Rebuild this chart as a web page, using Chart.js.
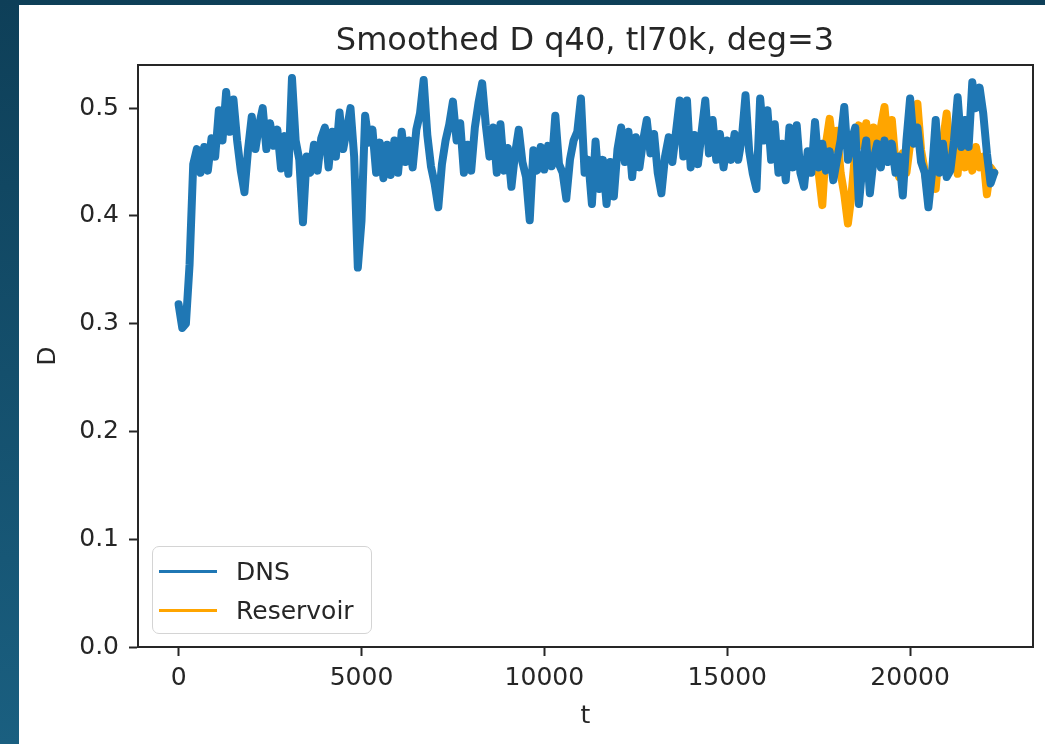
<!DOCTYPE html>
<html>
<head>
<meta charset="utf-8">
<script src="https://cdn.jsdelivr.net/npm/chart.js@4.4.1/dist/chart.umd.min.js"></script>
<style>
  html, body { margin: 0; padding: 0; }
  body {
    width: 1045px; height: 744px; overflow: hidden; position: relative;
    background: linear-gradient(to bottom, #0e3f58, #1a5f80);
    font-family: 'DejaVu Sans', sans-serif;
  }
  #sheet { position: absolute; left: 19px; top: 5px; width: 1026px; height: 739px; background: #fff; }
  #plot { position: absolute; left: 0; top: 0; }
  #title {
    position: absolute; left: 566px; top: 18px; transform: translateX(-50%);
    font-size: 32px; line-height: 32px; color: #262626; white-space: nowrap;
  }
  #legend {
    position: absolute; left: 133px; top: 541px; width: 218px; height: 86px;
    border: 1.5px solid #d4d4d4; border-radius: 7px; background: rgba(255,255,255,0.8);
  }
  .row { position: absolute; left: 0; height: 30px; font-size: 25px; line-height: 30px; color: #262626; }
  .row .swatch { position: absolute; left: 6px; top: 13px; width: 58px; height: 3px; }
  .row .label { position: absolute; left: 83px; top: 0; white-space: nowrap; }
</style>
</head>
<body>
<div id="sheet">
  <canvas id="plot" width="1026" height="739"></canvas>
  <div id="title">Smoothed D q40, tl70k, deg=3</div>
  <div id="legend"></div>
</div>
<script>
const STEP = 100;
const dnsStart = 0;
const dnsValues = [
  0.318, 0.296, 0.300, 0.355, 0.448, 0.462, 0.440, 0.464, 0.442, 0.472,
  0.455, 0.498, 0.470, 0.515, 0.478, 0.508, 0.470, 0.442, 0.422, 0.462,
  0.492, 0.462, 0.484, 0.500, 0.462, 0.486, 0.465, 0.480, 0.444, 0.474,
  0.439, 0.528, 0.470, 0.452, 0.394, 0.455, 0.440, 0.466, 0.442, 0.472,
  0.482, 0.445, 0.478, 0.455, 0.496, 0.462, 0.480, 0.500, 0.455, 0.352,
  0.395, 0.493, 0.468, 0.480, 0.440, 0.468, 0.435, 0.466, 0.438, 0.470,
  0.440, 0.478, 0.450, 0.470, 0.445, 0.480, 0.495, 0.526, 0.475, 0.446,
  0.430, 0.408, 0.448, 0.470, 0.485, 0.506, 0.470, 0.486, 0.440, 0.466,
  0.442, 0.482, 0.505, 0.523, 0.484, 0.455, 0.482, 0.440, 0.485, 0.442,
  0.463, 0.427, 0.458, 0.480, 0.450, 0.436, 0.396, 0.461, 0.442, 0.464,
  0.443, 0.465, 0.446, 0.493, 0.448, 0.440, 0.416, 0.452, 0.470, 0.478,
  0.509, 0.440, 0.452, 0.411, 0.469, 0.425, 0.452, 0.411, 0.450, 0.418,
  0.462, 0.482, 0.450, 0.478, 0.436, 0.473, 0.445, 0.470, 0.489, 0.458,
  0.476, 0.440, 0.421, 0.455, 0.473, 0.450, 0.478, 0.507, 0.455, 0.507,
  0.445, 0.475, 0.448, 0.478, 0.507, 0.458, 0.489, 0.452, 0.476, 0.445,
  0.470, 0.452, 0.476, 0.452, 0.472, 0.512, 0.460, 0.439, 0.425, 0.509,
  0.470, 0.498, 0.452, 0.485, 0.440, 0.467, 0.433, 0.482, 0.445, 0.484,
  0.440, 0.427, 0.460, 0.440, 0.487, 0.445, 0.467, 0.442, 0.460, 0.433,
  0.452, 0.470, 0.501, 0.452, 0.470, 0.482, 0.411, 0.448, 0.470, 0.421,
  0.452, 0.467, 0.445, 0.470, 0.450, 0.467, 0.440, 0.455, 0.419, 0.470,
  0.509, 0.467, 0.482, 0.450, 0.440, 0.408, 0.440, 0.489, 0.440, 0.467,
  0.436, 0.442, 0.470, 0.510, 0.464, 0.489, 0.464, 0.524, 0.500, 0.519,
  0.495, 0.458, 0.430, 0.440
];
const reservoirStart = 17500;
const reservoirValues = [
  0.440, 0.410, 0.467, 0.490, 0.462, 0.479, 0.440, 0.420, 0.393, 0.420,
  0.460, 0.484, 0.465, 0.486, 0.461, 0.482, 0.452, 0.482, 0.501, 0.464,
  0.489, 0.450, 0.436, 0.458, 0.440, 0.467, 0.485, 0.504, 0.461, 0.442,
  0.418, 0.440, 0.425, 0.467, 0.470, 0.495, 0.452, 0.478, 0.439, 0.482,
  0.445, 0.461, 0.442, 0.464, 0.445, 0.455, 0.420, 0.445, 0.440
];
const xTicks = [0, 5000, 10000, 15000, 20000];
const yTicks = [0.0, 0.1, 0.2, 0.3, 0.4, 0.5];

const tickFont = { family: 'DejaVu Sans', size: 25 };
const ink = '#262626';

function toPoints(start, values) {
  return values.map((v, i) => ({ x: start + i * STEP, y: v }));
}

const frame = {
  id: 'frame',
  afterDatasetsDraw(chart) {
    const { ctx, chartArea: a } = chart;
    ctx.save();
    ctx.strokeStyle = ink;
    ctx.lineWidth = 2;
    ctx.strokeRect(a.left, a.top, a.right - a.left, a.bottom - a.top);
    ctx.restore();
  }
};

const chart = new Chart(document.getElementById('plot'), {
  type: 'line',
  data: {
    datasets: [
      { label: 'DNS', data: toPoints(dnsStart, dnsValues), borderColor: '#1f77b4', borderWidth: 8 },
      { label: 'Reservoir', data: toPoints(reservoirStart, reservoirValues), borderColor: '#ffa500', borderWidth: 8 }
    ]
  },
  options: {
    responsive: false,
    animation: false,
    devicePixelRatio: 1,
    layout: { padding: { left: 0, top: 60, right: 12, bottom: 0 } },
    elements: { point: { radius: 0 }, line: { tension: 0, borderJoinStyle: 'round', borderCapStyle: 'round' } },
    plugins: { legend: { display: false }, tooltip: { enabled: false }, title: { display: false } },
    scales: {
      x: {
        type: 'linear',
        min: -1110,
        max: 23360,
        afterBuildTicks: axis => { axis.ticks = xTicks.map(v => ({ value: v })); },
        afterFit: axis => { axis.height = 97; },
        ticks: { font: tickFont, color: ink, padding: 7, maxRotation: 0, callback: v => String(v) },
        grid: { drawOnChartArea: false, drawTicks: true, tickLength: 9, tickWidth: 2, tickColor: ink },
        border: { display: true, color: ink, width: 2 },
        title: { display: true, text: 't', font: tickFont, color: ink, padding: { top: 0, bottom: 13 } }
      },
      y: {
        min: 0,
        max: 0.54,
        afterBuildTicks: axis => { axis.ticks = yTicks.map(v => ({ value: v })); },
        afterFit: axis => { axis.width = 119; },
        ticks: { font: tickFont, color: ink, padding: 10, callback: v => v.toFixed(1) },
        grid: { drawOnChartArea: false, drawTicks: true, tickLength: 9, tickWidth: 2, tickColor: ink },
        border: { display: true, color: ink, width: 2 },
        title: { display: true, text: 'D', font: tickFont, color: ink, padding: { top: 14, bottom: 0 } }
      }
    }
  },
  plugins: [frame]
});

// matplotlib-style legend box in the lower left
const legendBox = document.getElementById('legend');
chart.data.datasets.forEach((ds, i) => {
  const row = document.createElement('div');
  row.className = 'row';
  row.style.top = (10 + i * 39) + 'px';
  row.innerHTML = '<div class="swatch"></div><div class="label"></div>';
  row.querySelector('.swatch').style.background = ds.borderColor;
  row.querySelector('.label').textContent = ds.label;
  legendBox.appendChild(row);
});
</script>
</body>
</html>
